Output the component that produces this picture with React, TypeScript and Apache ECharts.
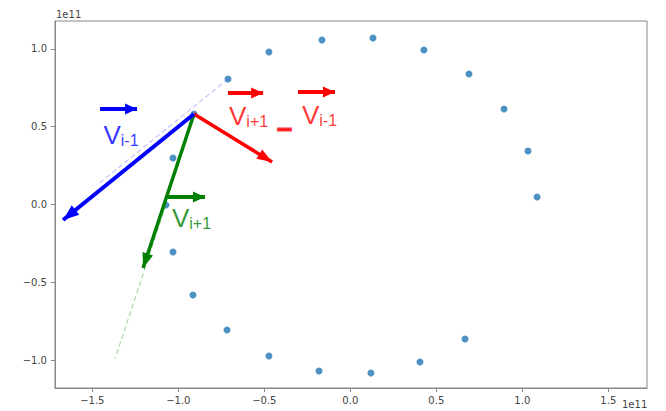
import React, { useEffect, useRef } from "react";
import * as echarts from "echarts";

// orbit points (units of 1e11)
const pointsX = [-0.909, -0.711, -0.473, -0.165, 0.132, 0.428, 0.69, 0.894, 1.033, 1.086, 0.667, 0.405, 0.12, -0.182, -0.473, -0.717, -0.915, -1.031, -1.072, -1.031];
const pointsY = [0.582, 0.807, 0.981, 1.058, 1.071, 0.994, 0.839, 0.614, 0.344, 0.048, -0.865, -1.013, -1.084, -1.071, -0.974, -0.807, -0.582, -0.305, -0.003, 0.299];

const xTicks = [-1.5, -1.0, -0.5, 0.0, 0.5, 1.0, 1.5];
const yTicks = [-1.0, -0.5, 0.0, 0.5, 1.0];

// vectors (from -> to)
const blueVec = [[-0.909, 0.582], [-1.67, -0.1]];
const redVec = [[-0.909, 0.582], [-0.455, 0.273]];
const greenVec = [[-0.909, 0.582], [-1.205, -0.408]];
const blueGuide = [[-0.711, 0.807], [-1.473, 0.125]];
const greenGuide = [[-1.072, -0.003], [-1.368, -0.993]];

// over-arrows of the labels
const blueOver = [[-1.455, 0.614], [-1.24, 0.614]];
const redOver1 = [[-0.711, 0.717], [-0.507, 0.717]];
const redOver2 = [[-0.304, 0.723], [-0.089, 0.723]];
const greenOver = [[-1.06, 0.048], [-0.845, 0.048]];

// label anchors
const blueLabel = { at: [-1.438, 0.447], sub: "i-1" };
const redLabel1 = { at: [-0.708, 0.566], sub: "i+1" };
const redMinus = { at: [-0.383, 0.487], text: "\u2014" };
const redLabel2 = { at: [-0.284, 0.576], sub: "i-1" };
const greenLabel = { at: [-1.04, -0.087], sub: "i+1" };

// arrow head with its tip at the symbol centre
const HEAD = "path://M5 0 L10 14 L0 14 Z M5 -14";

const fmt = (v: number) => {
  const s = Math.abs(v).toFixed(1);
  return v < 0 ? "\u2212" + s : s;
};

function arrowSeries(coords: number[][], color: string, width: number, head: number[], z = 5, dashed = false, opacity = 1) {
  return {
    type: "lines",
    coordinateSystem: "cartesian2d",
    z,
    silent: true,
    symbol: dashed ? ["none", "none"] : ["none", HEAD],
    symbolSize: dashed ? 0 : [[1, 1], [head[0], head[1] * 2]],
    lineStyle: { color, width, type: dashed ? [5, 3] : "solid", opacity, curveness: 0 },
    data: [{ coords }],
  };
}

const LABEL_FONT = "Liberation Sans, Arial, sans-serif";

function labelSeries(at: number[], sub: string, color: string) {
  return {
    type: "scatter",
    z: 10,
    silent: true,
    symbolSize: 1,
    itemStyle: { color: "rgba(0,0,0,0)" },
    label: {
      show: true,
      position: "right",
      distance: 0,
      formatter: "{v|V}{s|" + sub + "}",
      rich: {
        v: { fontSize: 26, lineHeight: 27, color, fontFamily: LABEL_FONT },
        s: { fontSize: 16, lineHeight: 14, color, verticalAlign: "bottom", fontFamily: LABEL_FONT },
      },
    },
    data: [at],
  };
}

export default function App() {
  const ref = useRef<HTMLDivElement>(null);
  useEffect(() => {
    const chart = echarts.init(ref.current!, null, { renderer: "svg" });
    const axisText = { color: "#444", fontSize: 10, fontFamily: "DejaVu Sans, sans-serif" };
    chart.setOption({
      animation: false,
      backgroundColor: "#fff",
      grid: { left: 55, right: 19, top: 21, bottom: 23, show: true, borderColor: "#888", borderWidth: 1 },
      xAxis: {
        type: "value",
        min: -1.717,
        max: 1.725,
        splitLine: { show: false },
        axisLine: { show: true, onZero: false, lineStyle: { color: "#888" } },
        axisTick: { show: true, length: 4, customValues: xTicks, lineStyle: { color: "#888" } },
        axisLabel: { ...axisText, margin: 7, customValues: xTicks, formatter: fmt },
      },
      yAxis: {
        type: "value",
        min: -1.18,
        max: 1.18,
        splitLine: { show: false },
        axisLine: { show: true, onZero: false, lineStyle: { color: "#888" } },
        axisTick: { show: true, length: 4, customValues: yTicks, lineStyle: { color: "#888" } },
        axisLabel: { ...axisText, margin: 8, customValues: yTicks, formatter: fmt },
      },
      graphic: [
        { type: "text", left: 56, top: 9, style: { text: "1e11", ...axisText, fill: "#444" } },
        { type: "text", left: 622, top: 399, style: { text: "1e11", ...axisText, fill: "#444" } },
      ],
      series: [
        {
          type: "scatter",
          z: 2,
          symbolSize: 7,
          itemStyle: { color: "#1f77b4" },
          data: pointsX.map((x, i) => [x, pointsY[i]]),
        },
        arrowSeries(blueGuide, "#6a6aff", 1.2, [1, 1], 3, true, 0.4),
        arrowSeries(greenGuide, "#44aa44", 1.2, [1, 1], 3, true, 0.45),
        arrowSeries(greenVec, "#008000", 3.5, [11, 15], 5),
        arrowSeries(redVec, "#ff0000", 3.5, [11, 15], 5),
        arrowSeries(blueVec, "#0000ff", 4, [12, 16], 6),
        arrowSeries(blueOver, "#0000ff", 4, [11, 12], 6),
        arrowSeries(redOver1, "#ff0000", 4, [11, 12], 6),
        arrowSeries(redOver2, "#ff0000", 4, [11, 12], 6),
        arrowSeries(greenOver, "#008000", 4, [11, 12], 6),
        labelSeries(blueLabel.at, blueLabel.sub, "#0000ff"),
        labelSeries(redLabel1.at, redLabel1.sub, "#ff0000"),
        labelSeries(redLabel2.at, redLabel2.sub, "#ff0000"),
        labelSeries(greenLabel.at, greenLabel.sub, "#008000"),
        {
          type: "scatter",
          z: 10,
          silent: true,
          symbolSize: 1,
          itemStyle: { color: "rgba(0,0,0,0)" },
          label: {
            show: true,
            position: "inside",
            formatter: redMinus.text,
            color: "#ff0000",
            fontSize: 12,
            textBorderColor: "#ff0000",
            textBorderWidth: 3,
            fontFamily: LABEL_FONT,
          },
          data: [redMinus.at],
        },
      ],
    });
    return () => chart.dispose();
  }, []);
  return <div ref={ref} style={{ position: "fixed", left: 0, top: 0, width: 666, height: 411 }} />;
}
